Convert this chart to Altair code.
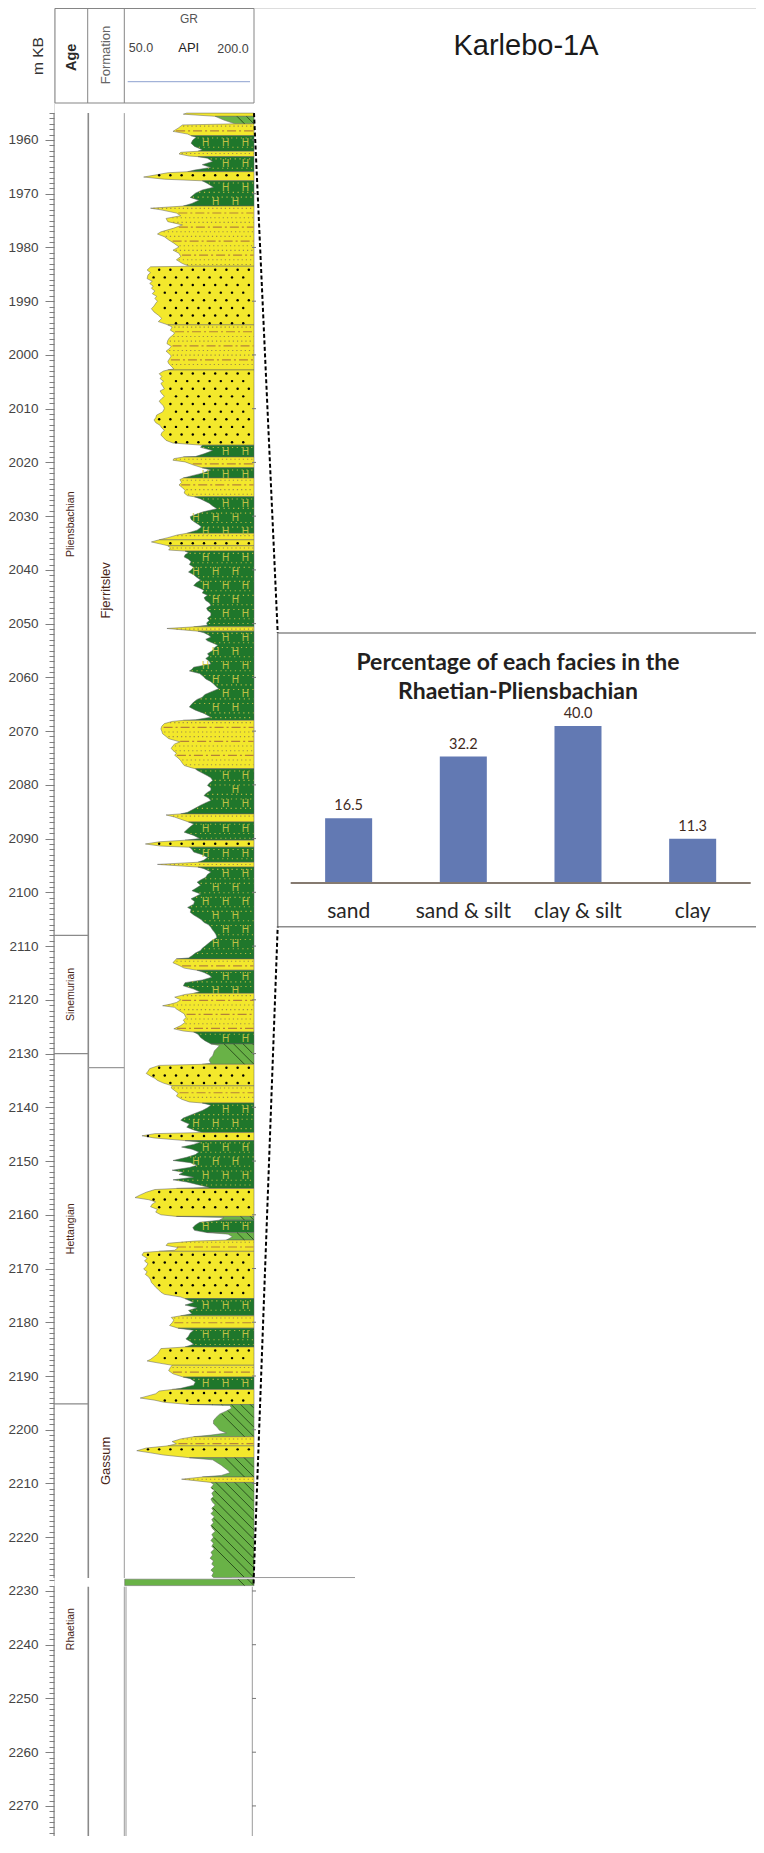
import altair as alt
import numpy as np
import pandas as pd

# ---------------- values ----------------
# GR curve (m KB, API), grouped one row per facies interval
depth_m = [
    1955.0, 1955.2, 1955.6,
    1956.3, 1957.0,
    1957.2, 1957.8, 1958.4, 1958.9, 1959.2,
    1959.5, 1960.0, 1960.6, 1961.2, 1961.8, 1962.1,
    1962.3, 1962.6, 1963.0, 1963.1,
    1963.4, 1964.0, 1964.6, 1965.1, 1965.6, 1965.9,
    1966.1, 1966.9, 1967.3, 1967.6,
    1968.1, 1968.8, 1969.3, 1969.9, 1970.7, 1971.2, 1971.8, 1972.3,
    1972.7, 1973.0, 1973.6, 1974.1, 1974.6, 1975.2, 1975.8, 1976.4, 1977.1, 1977.5, 1978.0, 1978.6, 1979.2, 1979.9, 1980.5, 1981.1, 1981.7, 1982.3, 1983.0, 1983.5,
    1983.6, 1984.2, 1984.7, 1985.1, 1985.8, 1986.3, 1986.7, 1987.2, 1987.6, 1988.1, 1988.6, 1989.1, 1989.5, 1990.0, 1990.4, 1990.9, 1991.4, 1992.0, 1992.6, 1993.2, 1993.8, 1994.4,
    1994.8, 1995.4, 1995.9, 1996.3, 1996.8, 1997.3, 1997.9, 1998.4, 1998.8, 1999.3, 1999.7, 2000.2, 2000.7, 2001.2, 2001.6, 2002.1, 2002.6, 2002.8,
    2003.0, 2003.5, 2004.0, 2004.4, 2004.9, 2005.3, 2005.8, 2006.3, 2006.7, 2007.2, 2007.7, 2008.1, 2008.6, 2009.0, 2009.5, 2010.0, 2010.6, 2011.2, 2011.7, 2012.1, 2012.6, 2013.1, 2013.6, 2014.0, 2014.5, 2014.9, 2015.4, 2015.9, 2016.4, 2016.8,
    2017.2, 2017.8, 2018.4, 2018.9, 2019.0,
    2019.3, 2019.6, 2019.9, 2020.5, 2021.0,
    2021.4, 2022.0, 2022.6, 2022.9,
    2023.2, 2023.7, 2024.2, 2024.7, 2025.2, 2025.7, 2026.2, 2026.4,
    2026.8, 2027.6, 2028.1, 2028.6, 2029.2, 2029.7, 2030.1, 2030.6, 2031.1, 2031.6, 2032.0, 2032.6, 2033.2,
    2033.5, 2034.0, 2034.4,
    2034.8, 2035.2, 2035.5,
    2035.9, 2036.3, 2036.5,
    2036.8, 2037.2, 2037.6, 2038.0, 2038.5, 2039.0, 2039.5, 2040.0, 2040.4, 2040.9, 2041.3, 2041.9, 2042.4, 2042.9, 2043.4, 2043.8, 2044.3, 2044.7, 2045.2, 2045.7, 2046.1, 2046.6, 2047.1, 2047.5, 2048.0, 2048.5, 2049.0, 2049.4, 2049.9, 2050.3, 2050.6,
    2050.9, 2051.4,
    2051.7, 2052.1, 2052.5, 2052.9, 2053.2, 2053.6, 2054.0, 2054.5, 2055.0, 2055.6, 2056.0, 2056.5, 2057.0, 2057.5, 2058.1, 2058.5, 2058.8, 2059.3, 2059.8, 2060.3, 2060.7, 2061.2, 2061.7, 2062.1, 2062.7, 2063.2, 2063.7, 2064.1, 2064.6, 2065.1, 2065.5, 2066.1, 2066.7, 2067.4, 2067.9, 2068.0,
    2068.2, 2068.6, 2069.1, 2069.6, 2070.0, 2070.5, 2071.0, 2071.4, 2072.0, 2072.4, 2072.7, 2073.2, 2073.6, 2074.1, 2074.5, 2075.0, 2075.5, 2076.0, 2076.4, 2076.8, 2077.0,
    2077.3, 2077.8, 2078.3, 2078.7, 2079.2, 2079.7, 2080.1, 2080.6, 2081.0, 2081.5, 2082.0, 2082.4, 2082.9, 2083.4, 2083.8, 2084.5, 2085.1, 2085.4,
    2085.6, 2086.0, 2086.4, 2086.9,
    2087.3, 2087.8, 2088.2, 2088.8, 2089.4, 2090.0, 2090.3,
    2090.6, 2091.0, 2091.4, 2091.6,
    2092.0, 2092.5, 2093.0, 2093.5, 2094.0, 2094.4,
    2094.8, 2095.3,
    2095.6, 2096.2, 2096.7, 2097.2, 2097.7, 2098.1, 2098.7, 2099.2, 2099.7, 2100.3, 2100.8, 2101.2, 2101.7, 2102.2, 2102.8, 2103.2, 2103.7, 2104.2, 2104.6, 2105.1, 2105.6, 2106.0, 2106.5, 2107.0, 2107.4, 2107.9, 2108.4, 2109.1, 2109.9, 2110.4, 2110.8, 2111.3, 2111.8, 2112.2, 2112.4,
    2112.7, 2113.1, 2113.6, 2114.1, 2114.5,
    2114.9, 2115.4, 2115.8, 2116.3, 2116.8, 2117.4, 2118.0, 2118.5, 2118.8,
    2119.0, 2119.5, 2120.0, 2120.5, 2120.8, 2121.1, 2121.4, 2121.7, 2122.2, 2122.6, 2123.3, 2123.8, 2124.2, 2124.8, 2125.4, 2125.8, 2126.0,
    2126.4, 2127.0, 2127.6, 2128.2,
    2128.5, 2129.0, 2129.5, 2130.0, 2130.4, 2130.9, 2131.3, 2131.8, 2132.0,
    2132.2, 2132.8, 2133.3, 2133.7, 2134.2, 2134.6, 2135.0, 2135.5, 2136.0,
    2136.4, 2136.9, 2137.4, 2137.9, 2138.5, 2139.0, 2139.2,
    2139.6, 2140.1, 2140.6, 2141.1, 2141.6, 2142.0, 2142.4, 2142.8, 2143.1, 2143.7, 2144.2, 2144.7,
    2144.9, 2145.3, 2145.7, 2146.2,
    2146.5, 2146.9, 2147.4, 2147.8, 2148.3, 2148.8, 2149.3, 2149.9, 2150.3, 2150.8, 2151.2, 2151.7, 2152.1, 2152.5, 2153.0, 2153.5, 2153.9, 2154.4, 2154.9, 2155.1,
    2155.3, 2155.8, 2156.3, 2156.8, 2157.2, 2157.6, 2158.0, 2158.5, 2159.0, 2159.5, 2160.0, 2160.3,
    2160.5, 2161.0,
    2161.4, 2161.9, 2162.4, 2162.9, 2163.3,
    2163.6, 2164.1, 2164.7,
    2164.9, 2165.3, 2165.7, 2166.1, 2166.6, 2166.8,
    2167.0, 2167.5, 2168.1, 2168.6, 2169.1, 2169.6, 2170.1, 2170.6, 2171.1, 2171.6, 2172.1, 2172.6, 2173.1, 2173.5, 2173.9, 2174.4, 2174.8, 2175.3, 2175.6,
    2175.9, 2176.3, 2176.8, 2177.3, 2177.8, 2178.4, 2178.8,
    2179.1, 2179.6, 2180.1, 2180.6, 2181.1,
    2181.5, 2182.0, 2182.6, 2183.1, 2183.6, 2184.1, 2184.6,
    2184.9, 2185.4, 2185.9, 2186.4, 2186.9, 2187.2, 2187.6, 2188.0,
    2188.4, 2189.0, 2189.6, 2190.2,
    2190.5, 2191.1, 2191.7, 2192.3, 2192.5,
    2192.8, 2193.3, 2193.7, 2194.1, 2194.5, 2194.9, 2195.3,
    2195.5, 2196.0, 2196.5, 2197.1, 2197.7, 2198.3, 2198.9, 2199.5, 2200.1, 2200.6, 2201.0, 2201.3,
    2201.7, 2202.2, 2202.6, 2203.0,
    2203.4, 2203.9, 2204.3, 2204.7, 2205.2,
    2205.6, 2206.1, 2206.6, 2207.1, 2207.6, 2208.0, 2208.5, 2208.8,
    2209.2, 2209.8,
    2210.2, 2210.8, 2211.3, 2211.8, 2212.4, 2212.9, 2213.5, 2214.0, 2214.6, 2215.1, 2215.6, 2216.2, 2216.7, 2217.3, 2217.8, 2218.4, 2218.9, 2219.5, 2220.0, 2220.6, 2221.1, 2221.7, 2222.2, 2222.8, 2223.3, 2223.9, 2224.4, 2225.0, 2225.5, 2226.1, 2226.6, 2227.2, 2227.5,
    2227.8, 2229.0,
]
gr_api = [
    122, 118, 155,
    165, 178,
    117, 112, 106, 123, 127,
    133, 129, 127, 131, 140, 135,
    115, 113, 125, 135,
    146, 152, 140, 150, 131, 123,
    100, 72, 96, 140,
    146, 153, 140, 132, 126, 136, 128, 118,
    80, 92, 110, 115, 98, 100, 117, 107, 92, 88, 96, 101, 107, 113, 106, 113, 115, 110, 117, 125,
    80, 76, 80, 77, 76, 82, 79, 83, 81, 85, 82, 87, 85, 88, 86, 84, 81, 84, 89, 93, 89, 100,
    105, 103, 108, 106, 102, 100, 99, 104, 102, 98, 101, 104, 102, 100, 101, 104, 107, 100,
    95, 90, 93, 91, 95, 92, 94, 96, 91, 93, 96, 93, 90, 92, 95, 96, 94, 87, 86, 84, 86, 91, 93, 96, 93, 92, 95, 98, 106, 140,
    138, 152, 142, 132, 118,
    107, 106, 120, 130, 140,
    150, 140, 125, 118,
    114, 116, 113, 117, 120, 119, 123, 131,
    138, 148, 152, 157, 141, 132, 126, 127, 131, 136, 139, 134, 122,
    111, 100, 90,
    81, 92, 100,
    103, 101, 120,
    124, 120, 119, 124, 127, 125, 130, 127, 124, 130, 133, 138, 133, 130, 137, 142, 140, 146, 142, 144, 148, 150, 145, 146, 150, 150, 146, 148, 145, 146, 130,
    99, 135,
    142, 147, 150, 144, 146, 152, 158, 154, 152, 146, 148, 144, 148, 150, 130, 128, 125, 137, 141, 144, 149, 153, 156, 159, 150, 143, 140, 134, 130, 127, 125, 132, 142, 150, 132, 118,
    105, 96, 93, 92, 93, 94, 98, 101, 114, 108, 106, 104, 106, 110, 108, 112, 115, 117, 119, 127, 132,
    134, 140, 146, 150, 152, 148, 146, 150, 150, 145, 142, 147, 150, 143, 138, 130, 123, 115,
    98, 108, 115, 124,
    130, 126, 123, 119, 130, 137, 120,
    90, 74, 92, 125,
    128, 130, 140, 146, 142, 135,
    88, 135,
    142, 150, 146, 144, 138, 134, 138, 133, 128, 138, 132, 127, 131, 130, 123, 127, 126, 130, 134, 139, 142, 147, 150, 152, 154, 156, 157, 150, 144, 140, 138, 132, 128, 124, 110,
    108, 106, 113, 119, 134,
    142, 148, 151, 140, 120, 118, 130, 137, 130,
    120, 108, 115, 110, 103, 94, 108, 110, 115, 119, 121, 118, 120, 115, 107, 118, 130,
    135, 138, 143, 150,
    160, 157, 154, 153, 152, 149, 148, 150, 140,
    90, 79, 77, 75, 80, 85, 88, 95, 105,
    104, 108, 112, 110, 116, 125, 140,
    150, 146, 140, 132, 124, 118, 115, 120, 125, 122, 130, 140,
    85, 70, 84, 120,
    138, 130, 116, 128, 136, 132, 122, 106, 126, 134, 125, 105, 118, 113, 130, 106, 122, 135, 148, 110,
    85, 75, 68, 62, 78, 86, 82, 80, 88, 86, 92, 110,
    165, 160,
    137, 132, 129, 131, 145,
    170, 175, 168,
    130, 100, 98, 112, 108, 90,
    72, 70, 76, 73, 77, 75, 72, 76, 74, 78, 80, 81, 84, 86, 89, 92, 96, 115, 120,
    124, 130, 120, 134, 124, 128, 115,
    104, 107, 105, 102, 112,
    130, 126, 124, 121, 126, 130, 120,
    92, 90, 88, 84, 80, 76, 90, 105,
    103, 101, 106, 118,
    126, 132, 130, 115, 105,
    90, 86, 77, 68, 85, 96, 125,
    172, 174, 168, 160, 156, 153, 153, 157, 160, 168, 150, 130,
    115, 105, 110, 100,
    75, 64, 80, 95, 125,
    152, 157, 162, 166, 170, 172, 162, 140,
    116, 150,
    153, 150, 154, 151, 153, 150, 152, 155, 151, 153, 150, 154, 151, 153, 150, 152, 155, 151, 153, 150, 153, 151, 154, 150, 152, 149, 153, 151, 154, 150, 153, 151, 153,
    50, 50,
]

# facies intervals (S = sand, SS = sand & silt, CS = clay & silt, C = clay)
fac_top = [1955.0, 1955.6, 1957.0, 1959.2, 1962.1, 1963.1, 1965.9, 1967.6, 1972.3, 1983.5,
           1994.4, 2002.8, 2016.8, 2019.0, 2021.0, 2022.9, 2026.4, 2033.2, 2034.4, 2035.5,
           2036.5, 2050.6, 2051.4, 2068.0, 2077.0, 2085.4, 2086.9, 2090.3, 2091.6, 2094.4,
           2095.3, 2112.4, 2114.5, 2118.8, 2126.0, 2128.2, 2132.0, 2136.0, 2139.2, 2144.7,
           2146.2, 2155.1, 2160.3, 2161.0, 2163.3, 2164.7, 2166.8, 2175.6, 2178.8, 2181.1,
           2184.6, 2188.0, 2190.2, 2192.5, 2195.3, 2201.3, 2203.0, 2205.2, 2208.8, 2209.8,
           2227.8]
fac_base = [1955.6, 1957.0, 1959.2, 1962.1, 1963.1, 1965.9, 1967.6, 1972.3, 1983.5, 1994.4,
            2002.8, 2016.8, 2019.0, 2021.0, 2022.9, 2026.4, 2033.2, 2034.4, 2035.5, 2036.5,
            2050.6, 2051.4, 2068.0, 2077.0, 2085.4, 2086.9, 2090.3, 2091.6, 2094.4, 2095.3,
            2112.4, 2114.5, 2118.8, 2126.0, 2128.2, 2132.0, 2136.0, 2139.2, 2144.7, 2146.2,
            2155.1, 2160.3, 2161.0, 2163.3, 2164.7, 2166.8, 2175.6, 2178.8, 2181.1, 2184.6,
            2188.0, 2190.2, 2192.5, 2195.3, 2201.3, 2203.0, 2205.2, 2208.8, 2209.8, 2227.5,
            2229.0]
fac_code = ["SS", "C", "SS", "CS", "SS", "CS", "S", "CS", "SS", "S",
            "SS", "S", "CS", "SS", "CS", "SS", "CS", "SS", "S", "SS",
            "CS", "SS", "CS", "SS", "CS", "SS", "CS", "S", "CS", "SS",
            "CS", "SS", "CS", "SS", "CS", "C", "S", "SS", "CS", "S",
            "CS", "S", "C", "CS", "C", "SS", "S", "CS", "SS", "CS",
            "S", "SS", "CS", "S", "C", "SS", "S", "C", "SS", "C",
            "C"]

age_names = ["Pliensbachian", "Sinemurian", "Hettangian", "Rhaetian"]
age_top = [1955.0, 2108.0, 2130.0, 2195.2]
age_base = [2108.0, 2130.0, 2195.2, 2279.0]
fm_names = ["Fjerritslev", "Gassum"]
fm_top = [1955.0, 2132.6]
fm_base = [2132.6, 2279.0]

facies_cats = ["sand", "sand & silt", "clay & silt", "clay"]
facies_pct = [16.5, 32.2, 40.0, 11.3]

track_ticks = list(range(1960, 2280, 10))

assert len(depth_m) == len(gr_api)
assert len(fac_top) == len(fac_base) == len(fac_code)

# ---------------- styling / layout ----------------
W, H = 702, 1828
FAC_NAME = {"S": "sand", "SS": "sand & silt", "CS": "clay & silt", "C": "clay"}
FILL_DOMAIN = ["sand", "sand & silt", "clay & silt", "clay"]
FILL_RANGE = ["#f3e82c", "#f3e82c", "#1f772b", "#69b247"]

XS = alt.Scale(domain=[50, 200], range=[70.7, 200], nice=False, zero=False)
YS = alt.Scale(domain=[1955, 2279], range=[105.1, 1846.3], nice=False, zero=False)

d_arr = np.array(depth_m, float)
g_arr = np.array(gr_api, float)


def cur(d):
    return np.interp(d, d_arr, g_arr)


rows = []
for i, (t, b, c) in enumerate(zip(fac_top, fac_base, fac_code)):
    m = (d_arr >= t - 1e-6) & (d_arr <= b + 1e-6)
    for d, g in zip(d_arr[m], g_arr[m]):
        rows.append({"seg": i, "facies": FAC_NAME[c], "depth": float(d), "gr": float(g), "right": 200.0})
area_df = pd.DataFrame(rows)

# ----- decorative lithology textures, placed inside each interval -----
sand_dots, ss_dash, ss_dot, cs_dot, cs_h, hatch = [], [], [], [], [], []
for t, b, c in zip(fac_top, fac_base, fac_code):
    if c == "S":
        k, y = 0, t + 0.65
        while y < b - 0.3:
            x = 194.0 - (6.5 if k % 2 else 0.0)
            while x > cur(y) + 4:
                sand_dots.append({"depth": y, "gr": x})
                x -= 13.0
            y += 1.42
            k += 1
    elif c in ("SS", "CS"):
        k, y = 0, t + 0.42
        while y < b - 0.25:
            x0 = float(cur(y)) + 2.5
            if x0 < 197:
                if k % 3 == 1:
                    if c == "SS":
                        ss_dash.append({"depth": y, "x1": x0, "x2": 199.5})
                    else:
                        x = 190.0 - (11.5 if (k // 3) % 2 else 0.0)
                        while x > cur(y) + 6:
                            cs_h.append({"depth": y, "gr": x})
                            x -= 23.0
                else:
                    (ss_dot if c == "SS" else cs_dot).append({"depth": y, "x1": x0, "x2": 199.5})
            y += 0.87
            k += 1
    else:  # clay: diagonal hatching "\"
        h = b - t
        slope = 6.23   # API per metre -> 45 degrees on screen
        step = 11.0
        ds = np.arange(t, b + 1e-9, 0.04)
        cv = cur(ds)
        for c0 in np.arange(200.0 - h * slope - step, 200.0 + step, step):
            xs = c0 + (ds - t) * slope
            ok = (xs >= cv + 0.6) & (xs <= 199.6)
            idx = np.where(ok)[0]
            if len(idx) < 2:
                continue
            runs = np.split(idx, np.where(np.diff(idx) > 1)[0] + 1)
            for r in runs:
                if len(r) >= 2:
                    hatch.append({"y1": ds[r[0]], "x1": xs[r[0]], "y2": ds[r[-1]], "x2": xs[r[-1]]})

sand_df = pd.DataFrame(sand_dots)
ss_dash_df = pd.DataFrame(ss_dash)
ss_dot_df = pd.DataFrame(ss_dot)
cs_dot_df = pd.DataFrame(cs_dot)
cs_h_df = pd.DataFrame(cs_h)
hatch_df = pd.DataFrame(hatch)

one = pd.DataFrame({"k": [0]})


def txt(s, x, y, **kw):
    return alt.Chart(one).mark_text(text=s, **kw).encode(x=alt.value(x), y=alt.value(y))


def vline(x, y1, y2, color="#888", w=1.0):
    return alt.Chart(one).mark_rule(color=color, strokeWidth=w).encode(
        x=alt.value(x), y=alt.value(y1), y2=alt.value(y2))


layers = []

# inset frame (runs off the right edge as in the figure)
layers.append(alt.Chart(one).mark_rect(fill="white", stroke="#8c8c8c", strokeWidth=1.5).encode(
    x=alt.value(223.7), x2=alt.value(720), y=alt.value(625), y2=alt.value(918.7)))

# GR filled lithology
layers.append(alt.Chart(area_df).mark_area(orient="horizontal", stroke="#5e5e5e", strokeWidth=0.5).encode(
    y=alt.Y("depth:Q", scale=YS, axis=None),
    x=alt.X("gr:Q", scale=XS, axis=None, stack=None),
    x2="right:Q",
    color=alt.Color("facies:N", scale=alt.Scale(domain=FILL_DOMAIN, range=FILL_RANGE), legend=None),
    detail="seg:N",
))

# textures
layers.append(alt.Chart(ss_dot_df).mark_rule(color="#a08c48", strokeWidth=1.1, strokeDash=[1.2, 3.0]).encode(
    y=alt.Y("depth:Q", scale=YS, axis=None), x=alt.X("x1:Q", scale=XS, axis=None), x2="x2:Q"))
layers.append(alt.Chart(ss_dash_df).mark_rule(color="#b5823a", strokeWidth=1.2, strokeDash=[9, 3, 2, 3]).encode(
    y=alt.Y("depth:Q", scale=YS, axis=None), x=alt.X("x1:Q", scale=XS, axis=None), x2="x2:Q"))
layers.append(alt.Chart(cs_dot_df).mark_rule(color="#b9b843", strokeWidth=1.1, strokeDash=[1.2, 3.6]).encode(
    y=alt.Y("depth:Q", scale=YS, axis=None), x=alt.X("x1:Q", scale=XS, axis=None), x2="x2:Q"))
layers.append(alt.Chart(cs_h_df).mark_text(text="H", fontSize=10, font="Liberation Sans", color="#c2c245").encode(
    y=alt.Y("depth:Q", scale=YS, axis=None), x=alt.X("gr:Q", scale=XS, axis=None)))
layers.append(alt.Chart(sand_df).mark_circle(size=6, color="black", opacity=1).encode(
    y=alt.Y("depth:Q", scale=YS, axis=None), x=alt.X("gr:Q", scale=XS, axis=None)))
layers.append(alt.Chart(hatch_df).mark_rule(color="#1d3a14", strokeWidth=0.8).encode(
    y=alt.Y("y1:Q", scale=YS, axis=None), y2="y2:Q",
    x=alt.X("x1:Q", scale=XS, axis=None), x2="x2:Q"))

# column frame lines (broken at the section gap)
seg_df = pd.DataFrame({"top": [1955.0, 2229.2], "base": [2227.6, 2279.0]})
for xv, col, w in [(34.3, "#8a8a8a", 1.6), (70.3, "#9a9a9a", 1.0)]:
    layers.append(alt.Chart(seg_df).mark_rule(color=col, strokeWidth=w).encode(
        x=alt.value(xv), y=alt.Y("top:Q", scale=YS, axis=None), y2="base:Q"))
low_df = pd.DataFrame({"top": [2229.2], "base": [2279.0]})
for xv in [72.0, 198.3]:
    layers.append(alt.Chart(low_df).mark_rule(color="#9a9a9a", strokeWidth=1.0).encode(
        x=alt.value(xv), y=alt.Y("top:Q", scale=YS, axis=None), y2="base:Q"))

# depth ruler with axis
layers.append(alt.Chart(seg_df).mark_rule(color="#777", strokeWidth=1.0).encode(
    x=alt.value(0),
    y=alt.Y("top:Q", scale=YS, axis=alt.Axis(
        orient="left", values=list(range(1955, 2280)), format="d",
        labelExpr="datum.value % 10 === 0 ? datum.label : ''", labelOverlap=False,
        tickSize={"condition": {"test": "datum.value % 10 === 0", "value": 9}, "value": 5},
        tickColor="#808080", tickWidth=1, domain=False, grid=False,
        labelFont="Liberation Sans", labelFontSize=13.5, labelColor="#444", labelPadding=7,
        title=None)),
    y2="base:Q"))

# track ticks on the right edge of the GR track
tt = pd.DataFrame({"d": track_ticks})
layers.append(alt.Chart(tt).mark_rule(color="#777", strokeWidth=1).encode(
    y=alt.Y("d:Q", scale=YS, axis=None), x=alt.value(198), x2=alt.value(202)))

# age / formation boundaries and labels
age_df = pd.DataFrame({"name": age_names, "top": age_top, "base": age_base})
fm_df = pd.DataFrame({"name": fm_names, "top": fm_top, "base": fm_base})
layers.append(alt.Chart(age_df.iloc[1:]).mark_rule(color="#8a8a8a", strokeWidth=1.2).encode(
    y=alt.Y("top:Q", scale=YS, axis=None), x=alt.value(0), x2=alt.value(34.3)))
layers.append(alt.Chart(fm_df.iloc[1:]).mark_rule(color="#9a9a9a", strokeWidth=1.2).encode(
    y=alt.Y("top:Q", scale=YS, axis=None), x=alt.value(34.3), x2=alt.value(70.3)))
layers.append(alt.Chart(age_df).transform_calculate(mid="(datum.top + datum.base) / 2").mark_text(
    angle=270, fontSize=10.5, font="Liberation Sans", color="#4a2718").encode(
    x=alt.value(17.3), y=alt.Y("mid:Q", scale=YS, axis=None), text="name:N"))
layers.append(alt.Chart(fm_df).transform_calculate(mid="(datum.top + datum.base) / 2").mark_text(
    angle=270, fontSize=13, font="Liberation Sans", color="#4a2718").encode(
    x=alt.value(52.3), y=alt.Y("mid:Q", scale=YS, axis=None), text="name:N"))

# section break line
layers.append(alt.Chart(pd.DataFrame({"d": [2227.5]})).mark_rule(color="#9a9a9a", strokeWidth=1).encode(
    y=alt.Y("d:Q", scale=YS, axis=None), x=alt.value(177.7), x2=alt.value(301)))

# connector dashed lines to the inset
layers.append(alt.Chart(pd.DataFrame({"d": [1955.0]})).mark_rule(color="black", strokeWidth=2, strokeDash=[4, 2.5]).encode(
    y=alt.Y("d:Q", scale=YS, axis=None), x=alt.value(200), x2=alt.value(223.7), y2=alt.value(625)))
layers.append(alt.Chart(pd.DataFrame({"d": [2228.6]})).mark_rule(color="black", strokeWidth=2, strokeDash=[4, 2.5]).encode(
    y=alt.Y("d:Q", scale=YS, axis=None), x=alt.value(199.5), x2=alt.value(223.7), y2=alt.value(918.7)))

# header box
layers.append(alt.Chart(one).mark_rect(fill="white", stroke="#858585", strokeWidth=1).encode(
    x=alt.value(1), x2=alt.value(200), y=alt.value(0.5), y2=alt.value(95)))
layers.append(vline(33.7, 0.5, 95, "#858585"))
layers.append(vline(70.3, 0.5, 95, "#858585"))
layers.append(alt.Chart(one).mark_rule(color="#8da0cf", strokeWidth=1).encode(
    x=alt.value(73.7), x2=alt.value(196), y=alt.value(73.7)))
layers.append(txt("m KB", -16.3, 48, angle=270, fontSize=15.5, font="Liberation Sans", color="#333", baseline="middle"))
layers.append(txt("Age", 17.7, 49.3, angle=270, fontSize=14.5, fontWeight="bold", font="Liberation Sans", color="#2a2a2a", baseline="middle"))
layers.append(txt("Formation", 52, 47, angle=270, fontSize=13, font="Liberation Sans", color="#666", baseline="middle"))
layers.append(txt("GR", 135, 11.3, fontSize=12, font="Liberation Sans", color="#555", baseline="middle"))
layers.append(txt("50.0", 87, 40.3, fontSize=12.5, font="Liberation Sans", color="#444", baseline="middle"))
layers.append(txt("API", 134.7, 39.7, fontSize=13, font="Liberation Sans", color="#222", baseline="middle"))
layers.append(txt("200.0", 179, 41.3, fontSize=12.5, font="Liberation Sans", color="#444", baseline="middle"))

# well title
layers.append(txt("Karlebo-1A", 472, 38, fontSize=29, font="Liberation Sans", color="#1a1a1a", baseline="middle"))

# inset bar chart
bar_df = pd.DataFrame({"cat": facies_cats, "pct": facies_pct})
BX = alt.Scale(domain=facies_cats, range=[237.3, 696.0], paddingInner=0.59, paddingOuter=0.295)
BY = alt.Scale(domain=[0, 40], range=[875, 718], nice=False)
layers.append(alt.Chart(bar_df).mark_bar(color="#6279b3").encode(
    x=alt.X("cat:N", scale=BX, axis=None, sort=facies_cats),
    y=alt.Y("pct:Q", scale=BY, axis=None)))
layers.append(alt.Chart(bar_df).mark_text(dy=-12, fontSize=14.5, font="Lato", color="#3f2a1d").encode(
    x=alt.X("cat:N", scale=BX, axis=None, sort=facies_cats),
    y=alt.Y("pct:Q", scale=BY, axis=None),
    text=alt.Text("pct:Q", format=".1f")))
layers.append(alt.Chart(bar_df).mark_text(fontSize=21, font="Lato", color="#262626").encode(
    x=alt.X("cat:N", scale=BX, axis=None, sort=facies_cats),
    y=alt.value(903.7), text="cat:N"))
layers.append(alt.Chart(pd.DataFrame({"z": [0.0]})).mark_rule(color="#857a70", strokeWidth=2).encode(
    y=alt.Y("z:Q", scale=BY, axis=None), x=alt.value(236.7), x2=alt.value(696.7)))
layers.append(txt("Percentage of each facies in the", 464, 654.7, fontSize=23, fontWeight="bold", font="Lato", color="#231f20", baseline="middle"))
layers.append(txt("Rhaetian-Pliensbachian", 464, 683.7, fontSize=23, fontWeight="bold", font="Lato", color="#231f20", baseline="middle"))

chart = alt.layer(*layers).resolve_scale(
    x="independent", y="independent", color="independent"
).properties(
    width=W, height=H,
    padding={"left": 46, "top": 0, "right": 0, "bottom": 0},
    autosize=alt.AutoSizeParams(type="none"),
).configure_view(stroke="transparent", strokeWidth=0).configure(background="white")

chart.save("out.html", embed_options={"renderer": "svg", "actions": False})
